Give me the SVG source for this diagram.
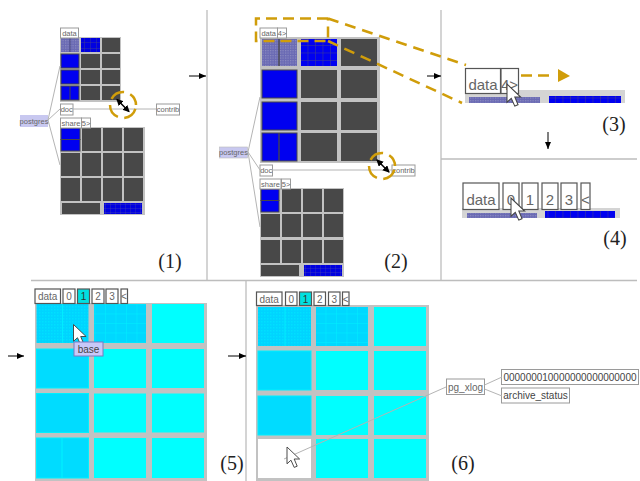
<svg xmlns="http://www.w3.org/2000/svg" width="640" height="481" viewBox="0 0 640 481">
<style>
.sep{stroke:#bdbdbd;stroke-width:1.3;fill:none}
.bg{fill:#c2c2c2}
.d{fill:#484848}
.b{fill:#0000f0;stroke:#484848;stroke-width:1}
.c{fill:#00ffff}
.e{fill:#00dcff;stroke:#00f0ff;stroke-width:1}
.link{stroke:#b4b4b4;stroke-width:1;fill:none}
.lab{fill:#fff;stroke:#9a9a9a;stroke-width:1}
.lab2{fill:#fff;stroke:#555;stroke-width:1.2}
.t{font-family:"Liberation Sans",Arial,sans-serif;fill:#666;text-anchor:middle}
.s{font-size:7.5px}
.m{font-size:10px}
.l{font-size:15px}
.n{font-family:"Liberation Serif","Times New Roman",serif;font-size:20px;fill:#222;text-anchor:middle}
.gold{stroke:#d09d0a;fill:none}
.cur{fill:#fff;stroke:#444;stroke-width:.8}
.ar{stroke:#000;stroke-width:1}
.dbl{stroke:#000;stroke-width:1.5}
</style>
<defs>
<pattern id="gp" width="2.5" height="2.5" patternUnits="userSpaceOnUse"><rect width="2.5" height="2.5" fill="#6a6ab4"/><rect width="1.2" height="1.2" fill="#8c8cc0"/></pattern>
<pattern id="bl1" width="6" height="6" patternUnits="userSpaceOnUse"><rect width="6" height="6" fill="#0000e0"/><path d="M0 0H6M0 0V6" stroke="#44448a" stroke-width=".8"/></pattern>
<pattern id="bl2" width="7.500" height="7.500" patternUnits="userSpaceOnUse"><rect width="7.500" height="7.500" fill="#0000f0"/><path d="M0 0H7.500M0 0V7.500" stroke="#484880" stroke-width=".9"/></pattern>
<pattern id="bl3" width="5" height="4" patternUnits="userSpaceOnUse"><rect width="5" height="4" fill="#0000e0"/><path d="M0 0H5M0 0V4" stroke="#5050a0" stroke-width=".6"/></pattern>
<pattern id="cy1" width="3" height="3" patternUnits="userSpaceOnUse"><rect width="3" height="3" fill="#00d4ff"/><rect width="1.500" height="1.500" fill="#00e0ff"/></pattern>
<pattern id="cy2" width="10.500" height="9.500" patternUnits="userSpaceOnUse"><rect width="10.500" height="9.500" fill="#00d8ff"/><path d="M0 0H10.500M0 0V9.500" stroke="#00f0ff" stroke-width="1"/></pattern>
<marker id="ah" markerWidth="8" markerHeight="8" refX="7" refY="3" orient="auto" markerUnits="userSpaceOnUse"><path d="M0 0L7 3L0 6z" fill="#000"/></marker>
<marker id="ah2" markerWidth="8" markerHeight="8" refX="6" refY="3.500" orient="auto-start-reverse" markerUnits="userSpaceOnUse"><path d="M0 0L7 3.500L0 7z" fill="#000"/></marker>
<path id="cursor" d="M0 0V14L3.300 11L6 17L8.500 16L6 10H10.500z"/>
</defs>

<g id="separators">
<path class="sep" d="M207 10V280M441 10V280M441 159H637M31 280.500H637M246 280V481"/>
</g>

<g id="panel1">
<rect class="bg" x="60" y="37" width="61" height="65"/>
<rect x="61" y="38" width="18" height="14" fill="url(#gp)"/><path d="M70 38V52" stroke="#484880"/>
<rect x="81" y="38" width="19" height="14" fill="url(#bl1)"/>
<rect class="d" x="102" y="38" width="18" height="14"/>
<rect class="b" x="61" y="54" width="18" height="14"/><rect class="d" x="81" y="54" width="19" height="14"/><rect class="d" x="102" y="54" width="18" height="14"/>
<rect class="b" x="61" y="70" width="18" height="14"/><rect class="d" x="81" y="70" width="19" height="14"/><rect class="d" x="102" y="70" width="18" height="14"/>
<rect class="b" x="61" y="86" width="18" height="14"/><path d="M70 86V100" stroke="#484848"/><rect class="d" x="81" y="86" width="19" height="14"/><rect class="d" x="102" y="86" width="18" height="14"/>
<rect class="bg" x="60" y="127" width="85" height="88"/>
<rect class="b" x="61" y="128" width="19" height="11.500"/><rect class="b" x="61" y="139.500" width="19" height="11.500"/>
<rect class="d" x="82" y="128" width="19" height="23"/><rect class="d" x="103" y="128" width="19" height="23"/><rect class="d" x="124" y="128" width="19" height="23"/>
<rect class="d" x="61" y="153" width="19" height="23"/><rect class="d" x="82" y="153" width="19" height="23"/><rect class="d" x="103" y="153" width="19" height="23"/><rect class="d" x="124" y="153" width="19" height="23"/>
<rect class="d" x="61" y="178" width="19" height="23"/><rect class="d" x="82" y="178" width="19" height="23"/><rect class="d" x="103" y="178" width="19" height="23"/><rect class="d" x="124" y="178" width="19" height="23"/>
<rect class="d" x="62" y="203" width="38" height="11"/><rect x="104" y="203" width="38" height="11" fill="url(#bl3)"/>
<g id="p1-postgres"><rect x="20" y="115" width="28" height="12" fill="#c8c8f0"/><text class="t s" x="34" y="124">postgres</text></g>
<g id="p1-data"><rect class="lab" x="60.500" y="28" width="18" height="10"/><text class="t s" x="69.500" y="36">data</text></g>
<g id="p1-doc"><rect class="lab" x="60.500" y="104" width="12.500" height="11"/><text class="t s" x="66.700" y="112">doc</text></g>
<g id="p1-share"><rect class="lab" x="60.500" y="118" width="21" height="10"/><text class="t s" x="71" y="126">share</text><rect class="lab" x="81.500" y="118" width="9" height="10"/><text class="t s" x="86" y="126">5&gt;</text></g>
<g id="p1-contrib"><rect class="lab" x="156.500" y="104" width="23" height="11"/><text class="t s" x="168" y="112">contrib</text></g>
<text class="n" x="170" y="268">(1)</text>
</g>

<g id="panel2">
<rect class="bg" x="260" y="37" width="120" height="126"/>
<rect x="262" y="39" width="35" height="27" fill="url(#gp)"/><path d="M279 39V66" stroke="#484848" stroke-width="1.300"/>
<rect x="301" y="39" width="36" height="27" fill="url(#bl2)"/>
<rect class="d" x="341" y="39" width="36" height="27"/>
<rect class="b" x="262" y="70" width="35" height="28" stroke-width="1.500"/><rect class="d" x="301" y="70" width="36" height="28"/><rect class="d" x="341" y="70" width="36" height="28"/>
<rect class="b" x="262" y="102" width="35" height="28" stroke-width="1.500"/><rect class="d" x="301" y="102" width="36" height="28"/><rect class="d" x="341" y="102" width="36" height="28"/>
<rect class="b" x="262" y="133" width="35" height="28" stroke-width="1.500"/><path d="M279 133V161" stroke="#484848" stroke-width="1.300"/><rect class="d" x="301" y="133" width="36" height="28"/><rect class="d" x="341" y="133" width="36" height="28"/>
<rect class="bg" x="260" y="188" width="84" height="89"/>
<rect class="b" x="261" y="189" width="18" height="11.500"/><rect class="b" x="261" y="200.500" width="18" height="11.500"/>
<rect class="d" x="282" y="189" width="19" height="23"/><rect class="d" x="303" y="189" width="19" height="23"/><rect class="d" x="324" y="189" width="19" height="23"/>
<rect class="d" x="261" y="214" width="19" height="23"/><rect class="d" x="282" y="214" width="19" height="23"/><rect class="d" x="303" y="214" width="19" height="23"/><rect class="d" x="324" y="214" width="19" height="23"/>
<rect class="d" x="261" y="240" width="19" height="23"/><rect class="d" x="282" y="240" width="19" height="23"/><rect class="d" x="303" y="240" width="19" height="23"/><rect class="d" x="324" y="240" width="19" height="23"/>
<rect class="d" x="261" y="265" width="38" height="11"/><rect x="304" y="265" width="38" height="11" fill="url(#bl3)"/>
<g id="p2-postgres"><rect x="219.500" y="147" width="28" height="11" fill="#c8c8f0" stroke="#bbb" stroke-width=".6"/><text class="t s" x="233.500" y="155">postgres</text></g>
<g id="p2-data"><rect class="lab" x="260" y="28" width="17.500" height="10"/><text class="t s" x="268.700" y="36">data</text><rect class="lab" x="277.500" y="28" width="9" height="10"/><text class="t s" x="282" y="36">4&gt;</text></g>
<g id="p2-doc"><rect class="lab" x="260" y="165" width="12.500" height="11"/><text class="t s" x="266.200" y="173">doc</text></g>
<g id="p2-share"><rect class="lab" x="260" y="179" width="21" height="10"/><text class="t s" x="270.500" y="187">share</text><rect class="lab" x="281.500" y="179" width="9" height="10"/><text class="t s" x="286" y="187">5&gt;</text></g>
<g id="p2-contrib"><rect class="lab" x="392" y="165" width="23" height="11"/><text class="t s" x="403.500" y="173">contrib</text></g>
<text class="n" x="396" y="268">(2)</text>
</g>

<g id="panel3">
<rect x="465" y="90" width="160" height="13" fill="#d4d4d4"/>
<rect x="469" y="97" width="71" height="6" fill="url(#gp)"/>
<rect x="549" y="96" width="72" height="7" fill="url(#bl2)"/>
<g id="p3-data"><rect class="lab2" x="465.500" y="68.500" width="35" height="25"/><text class="t l" x="483" y="89.500">data</text><rect class="lab2" x="501" y="68.500" width="17.500" height="25"/><text class="t l" x="509.500" y="89.500">4&gt;</text></g>
<use href="#cursor" class="cur" transform="translate(507 84) scale(1.300)"/>
<text class="n" x="614" y="131">(3)</text>
</g>

<g id="panel4">
<rect x="462" y="208" width="158" height="10" fill="#d4d4d4"/>
<rect x="467" y="213" width="70" height="5" fill="url(#gp)"/>
<rect x="545" y="211" width="70" height="7" fill="url(#bl2)"/>
<g id="p4-tabs">
<rect class="lab2" x="463" y="183" width="36" height="26.500"/><text class="t l" x="481" y="204.500">data</text>
<rect class="lab2" x="503" y="183" width="16" height="26.500"/><text class="t l" x="511" y="204.500">0</text>
<rect class="lab2" x="522" y="183" width="16" height="26.500"/><text class="t l" x="530" y="204.500">1</text>
<rect class="lab2" x="542" y="183" width="16" height="26.500"/><text class="t l" x="550" y="204.500">2</text>
<rect class="lab2" x="561" y="183" width="16" height="26.500"/><text class="t l" x="569" y="204.500">3</text>
<rect class="lab2" x="581" y="183" width="9" height="26.500"/><text class="t l" x="585.500" y="204.500">&lt;</text>
</g>
<use href="#cursor" class="cur" transform="translate(511 198) scale(1.300)"/>
<text class="n" x="615" y="245">(4)</text>
</g>

<g id="panel5">
<rect class="bg" x="35" y="303" width="172" height="178"/>
<rect x="36.500" y="304" width="52" height="39" fill="url(#cy1)"/><path d="M62.500 304V343" stroke="#00ecff"/>
<rect x="94" y="304" width="52" height="39" fill="url(#cy2)"/>
<rect class="c" x="152" y="304" width="52" height="39"/>
<rect class="e" x="36.500" y="349" width="52" height="39"/><rect class="c" x="94" y="349" width="52" height="39"/><rect class="c" x="152" y="349" width="52" height="39"/>
<rect class="e" x="36.500" y="393.500" width="52" height="39"/><rect class="c" x="94" y="393.500" width="52" height="39"/><rect class="c" x="152" y="393.500" width="52" height="39"/>
<rect class="e" x="36.500" y="438" width="52" height="40"/><path d="M62 438V478" stroke="#00f4ff"/><rect class="c" x="94" y="438" width="52" height="40"/><rect class="c" x="152" y="438" width="52" height="40"/>
<g id="p5-tabs">
<rect class="lab2" x="35" y="289" width="25.500" height="14.500"/><text class="t m" x="47.700" y="300">data</text>
<rect class="lab2" x="63" y="289" width="12" height="14.500"/><text class="t m" x="69" y="300">0</text>
<rect x="77.500" y="289" width="12" height="14.500" fill="#00e0e0" stroke="#555" stroke-width="1.200"/><text class="t m" x="83.500" y="300" style="fill:#333">1</text>
<rect class="lab2" x="92" y="289" width="12" height="14.500"/><text class="t m" x="98" y="300">2</text>
<rect class="lab2" x="106" y="289" width="12" height="14.500"/><text class="t m" x="112" y="300">3</text>
<rect class="lab2" x="121" y="289" width="6.500" height="14.500"/><text class="t m" x="124" y="300">&lt;</text>
</g>
<use href="#cursor" class="cur" transform="translate(73.500 324.500) scale(1.200)"/>
<g id="p5-base"><rect x="74" y="342" width="29" height="14" fill="#c8c8f8" stroke="#7a7ac0"/><text class="t m" x="88.500" y="352.500" style="fill:#444">base</text></g>
<text class="n" x="232" y="470">(5)</text>
</g>

<g id="panel6">
<rect class="bg" x="256" y="305" width="173" height="176"/>
<rect x="258" y="307" width="53" height="39" fill="url(#cy1)"/><path d="M285 307V346" stroke="#00ecff"/>
<rect x="316" y="307" width="52" height="39" fill="url(#cy2)"/>
<rect class="c" x="374" y="307" width="52" height="39"/>
<rect class="e" x="258" y="351" width="53" height="39"/><rect class="c" x="316" y="351" width="52" height="39"/><rect class="c" x="374" y="351" width="52" height="39"/>
<rect class="e" x="258" y="396" width="53" height="39"/><rect class="c" x="316" y="396" width="52" height="39"/><rect class="c" x="374" y="396" width="52" height="39"/>
<rect x="258" y="439" width="53" height="39" fill="#fff"/><rect class="c" x="316" y="439" width="52" height="39"/><rect class="c" x="374" y="439" width="52" height="39"/>
<g id="p6-tabs">
<rect class="lab2" x="256.500" y="292" width="25.500" height="13.500"/><text class="t m" x="269.200" y="303">data</text>
<rect class="lab2" x="285.500" y="292" width="11.500" height="13.500"/><text class="t m" x="291.200" y="303">0</text>
<rect x="299.500" y="292" width="12" height="13.500" fill="#00e0e0" stroke="#555" stroke-width="1.200"/><text class="t m" x="305.500" y="303" style="fill:#333">1</text>
<rect class="lab2" x="314" y="292" width="11.500" height="13.500"/><text class="t m" x="319.700" y="303">2</text>
<rect class="lab2" x="328.500" y="292" width="11.500" height="13.500"/><text class="t m" x="334.200" y="303">3</text>
<rect class="lab2" x="342.500" y="292" width="6.500" height="13.500"/><text class="t m" x="345.700" y="303">&lt;</text>
</g>
<g id="p6-pg_xlog"><rect class="lab" x="446.500" y="379" width="38" height="15.500"/><text class="t m" x="465.500" y="390.500">pg_xlog</text></g>
<g id="p6-file"><rect class="lab" x="501.500" y="369.500" width="137" height="15"/><text class="t m" x="570" y="380.500" textLength="133" lengthAdjust="spacing" style="fill:#444">000000010000000000000000</text></g>
<g id="p6-archive"><rect class="lab" x="501.500" y="388" width="68" height="15"/><text class="t m" x="535.500" y="399" style="fill:#444">archive_status</text></g>
<text class="n" x="463" y="470">(6)</text>
</g>

<g id="connectors">
<path class="link" d="M48 120L60 66M48 120L60 109M48 120L60 165M73 109H156"/>
<path class="link" d="M248 152L260 97M248 152L260 170M248 152L260 227M272 170H392"/>
<path class="link" d="M284 459L446 387"/>
<path class="link" stroke-width="1.200" d="M484.500 385L502 377M484.500 389L502 396"/>
<path class="ar" marker-end="url(#ah)" d="M189 76H206"/>
<path class="ar" marker-end="url(#ah)" d="M427 76H441"/>
<path class="ar" marker-end="url(#ah)" d="M548 132V149"/>
<path class="ar" marker-end="url(#ah)" d="M8 356H24"/>
<path class="ar" marker-end="url(#ah)" d="M228 356H246"/>
<circle class="gold" cx="123" cy="105" r="13" stroke-width="2.500" stroke-dasharray="15 6.500" stroke-dashoffset="-4"/>
<path class="dbl" marker-start="url(#ah2)" marker-end="url(#ah2)" d="M117 99.500L129 111.500"/>
<circle class="gold" cx="382" cy="166" r="13" stroke-width="2.500" stroke-dasharray="15 6.500" stroke-dashoffset="-4"/>
<path class="dbl" marker-start="url(#ah2)" marker-end="url(#ah2)" d="M377 160L389 172"/>
<path class="gold" stroke-width="2.500" stroke-dasharray="11 6" d="M328 18.500H256V41H328V18.500"/>
<path class="gold" stroke-width="2.500" stroke-dasharray="11 7" d="M328 18.500L466 65M328 41L462 103"/>
<path class="gold" stroke-width="2.500" stroke-dasharray="11 6" d="M521 75.500H550"/>
<path d="M558 69L570 76L558 82z" fill="#d09d0a"/>
</g>
<use href="#cursor" class="cur" transform="translate(287 447) scale(1.200)"/>
</svg>
